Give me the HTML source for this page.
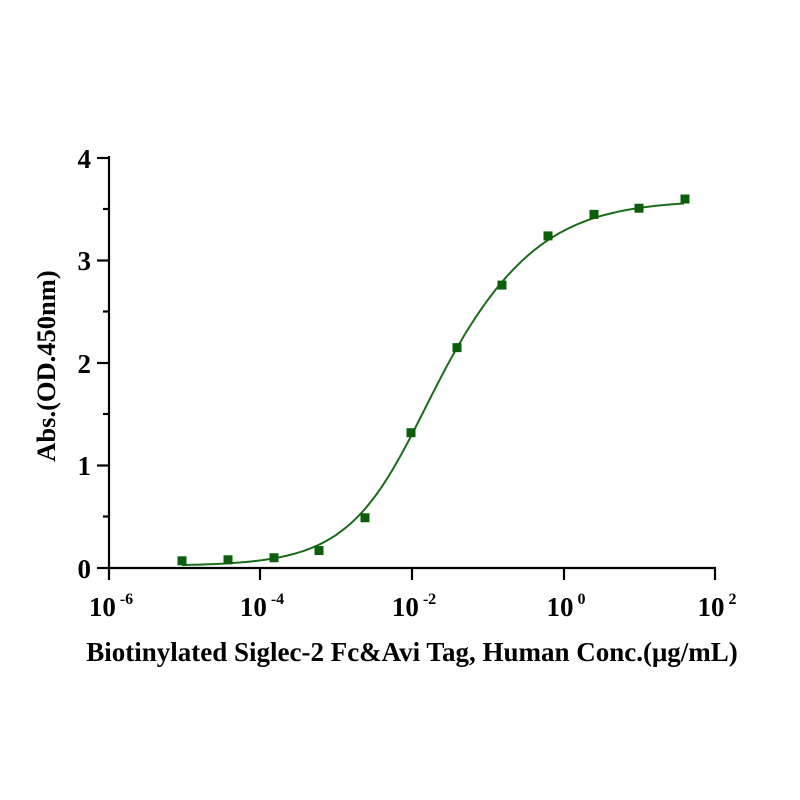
<!DOCTYPE html>
<html><head><style>body{margin:0;background:#fff}svg{display:block}</style></head><body>
<svg id="s" width="800" height="800" xmlns="http://www.w3.org/2000/svg" font-family="Liberation Serif, serif" font-weight="bold">
<rect width="800" height="800" fill="#fff"/>
<g stroke="#000" stroke-width="2.2" fill="none">
<line x1="109" y1="156" x2="109" y2="569"/>
<line x1="108" y1="568" x2="716" y2="568"/>
<line x1="97" y1="158" x2="109" y2="158"/>
<line x1="97" y1="260.5" x2="109" y2="260.5"/>
<line x1="97" y1="363" x2="109" y2="363"/>
<line x1="97" y1="465.5" x2="109" y2="465.5"/>
<line x1="97" y1="568" x2="109" y2="568"/>
<line x1="103" y1="209" x2="109" y2="209"/>
<line x1="103" y1="311.5" x2="109" y2="311.5"/>
<line x1="103" y1="414" x2="109" y2="414"/>
<line x1="103" y1="516.5" x2="109" y2="516.5"/>
<line x1="109" y1="568" x2="109" y2="580"/>
<line x1="260" y1="568" x2="260" y2="580"/>
<line x1="412" y1="568" x2="412" y2="580"/>
<line x1="564" y1="568" x2="564" y2="580"/>
<line x1="715" y1="568" x2="715" y2="580"/>
</g>
<g font-size="27" text-anchor="end">
<text x="91" y="168">4</text><text x="91" y="270">3</text><text x="91" y="373">2</text><text x="91" y="475">1</text><text x="91" y="578">0</text>
</g>
<g font-size="27" text-anchor="middle">
<text x="111" y="616">10<tspan font-size="16" dy="-12"> -6</tspan></text>
<text x="262" y="616">10<tspan font-size="16" dy="-12"> -4</tspan></text>
<text x="414" y="616">10<tspan font-size="16" dy="-12"> -2</tspan></text>
<text x="566" y="616">10<tspan font-size="16" dy="-12"> 0</tspan></text>
<text x="717" y="616">10<tspan font-size="16" dy="-12"> 2</tspan></text>
</g>
<text x="412" y="661" font-size="27" text-anchor="middle">Biotinylated Siglec-2 Fc&amp;Avi Tag, Human Conc.(μg/mL)</text>
<text transform="translate(55,366) rotate(-90)" font-size="26.5" text-anchor="middle">Abs.(OD.450nm)</text>
<path id="c" fill="none" stroke="#1a6b1a" stroke-width="2"/>
<g id="p" fill="#0b5e0b"></g>
</svg>
<script>
var d="",Y=v=>568-v*102.5;
for(var x=182;x<=685;x+=2){var h=1.55-0.3/(1+Math.exp(-(x-438)/30));var v=0.02+3.57/(1+Math.pow(10,(438-x)/152*h));d+=(x==182?"M":"L")+x+","+Y(v).toFixed(1);}
document.getElementById("c").setAttribute("d",d);
var pts=[[182,0.07],[228,0.08],[274,0.1],[319,0.17],[365,0.49],[411,1.32],[457,2.15],[502,2.76],[548,3.24],[594,3.45],[639,3.51],[685,3.6]],g=document.getElementById("p"),h="";
pts.forEach(p=>{h+='<rect x="'+(p[0]-4.5)+'" y="'+(Y(p[1])-4.5)+'" width="9" height="9"/>';});
g.innerHTML=h;
</script>
</body></html>
